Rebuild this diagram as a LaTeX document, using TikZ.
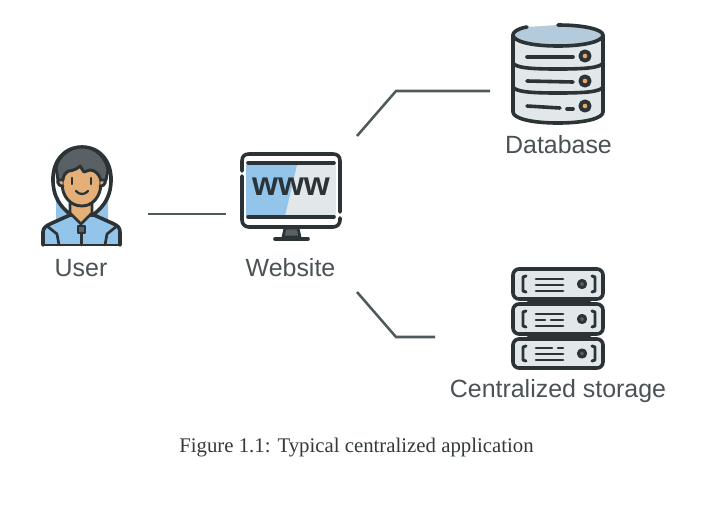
\documentclass[tikz,border=0pt]{standalone}
\usepackage{fontspec}
\setmainfont{Liberation Sans}
\newfontfamily\capfont{Liberation Serif}
\definecolor{ink}{HTML}{2B3336}
\definecolor{labelc}{HTML}{4A5256}
\definecolor{linec}{HTML}{4F5A5C}
\definecolor{skyb}{HTML}{93C5EA}
\definecolor{greyf}{HTML}{E2E8E9}
\definecolor{dbtop}{HTML}{B3CBDA}
\definecolor{skin}{HTML}{E5AF78}
\definecolor{hair}{HTML}{5A6164}
\definecolor{orng}{HTML}{E9A765}
\tikzset{
 icon/.style={draw=ink,line width=2.7pt,line cap=round,line join=round},
 thin icon/.style={draw=ink,line width=2.2pt,line cap=round,line join=round},
 conn/.style={draw=linec,line width=1.9pt,line join=miter},
 anchorbox/.style={inner sep=0pt,outer sep=0pt,minimum width=#1*0.75pt},
 lab/.style={text=labelc,font=\fontsize{18.7pt}{22pt}\selectfont,inner sep=0pt},
}
\newcommand{\dbled}[1]{%
 \filldraw[icon,fill=orng,line width=2.9pt] (585,#1) circle (4.6);}
\newcommand{\rackbox}[2]{%
 \filldraw[icon,fill=greyf,rounded corners=4.5pt] (513,#1) rectangle (603,#2);
 \draw[thin icon] (526,#1+7) -- (523,#1+8) -- (523,#2-8) -- (526,#2-7);
 \draw[thin icon] (592,#1+7) -- (595,#1+8) -- (595,#2-8) -- (592,#2-7);
 \filldraw[thin icon,fill=hair] (582,#1/2+#2/2) circle (3.6);}
\begin{document}
\begin{tikzpicture}[x=0.75pt,y=-0.75pt]
\useasboundingbox[fill=white] (0,0) rectangle (710,511);

% anchor boxes for connectors
\node[anchorbox=134,minimum height=90pt] (user) at (81,214) {};
\node[anchorbox=131,minimum height=117pt] (website) at (291.5,214) {};
\node[anchorbox=134,minimum height=82pt] (database) at (557,91) {};
\node[anchorbox=246,minimum height=75pt] (storage) at (558,337) {};

% connectors
\draw[conn] (user.east) -- (website.west);
\draw[conn] (website.north east) -- (396,91) -- (database.west);
\draw[conn] (website.south east) -- (396,337) -- (storage.west);

% ---- user icon
\path[fill=skyb] (56,190) .. controls (60,205) and (68,214) .. (76,220) -- (88,220) .. controls (96,214) and (104,205) .. (108,190) -- (108,225) -- (56,225) -- cycle;
\filldraw[icon,fill=skyb] (43,245) -- (43,232) .. controls (43,228) and (46,226) .. (50,224) -- (70,215) -- (94,215) -- (114,224) .. controls (118,226) and (120,228) .. (120,232) -- (120,245);
\draw[thin icon] (43,245) -- (120,245);
\draw[icon,line width=2pt] (59,245) -- (57,234) -- (47,226);
\draw[icon,line width=2pt] (105,245) -- (107,234) -- (117,226);
\filldraw[icon,fill=skin,line width=2pt] (70,203) -- (70,213) -- (81,224) -- (92,213) -- (92,203) -- cycle;
\filldraw[icon,fill=hair,line width=2pt] (78,226) rectangle (85,233);
\draw[icon,line width=2pt] (81.5,233) -- (81.5,245);
\draw[icon] (54,190) .. controls (49,165) and (62,147) .. (82,147) .. controls (102,147) and (115,165) .. (110,190) .. controls (108,200) and (102,208) .. (94,214);
\draw[icon] (54,190) .. controls (56,200) and (62,208) .. (70,214);
\filldraw[thin icon,fill=skin] (62,183) .. controls (62,172) and (70,163) .. (82,163) .. controls (94,163) and (101,172) .. (101,183) .. controls (101,196) and (93,206) .. (82,206) .. controls (70,206) and (62,196) .. (62,183) -- cycle;
\filldraw[thin icon,fill=skin] (62,178) .. controls (56,178) and (56,186) .. (63,186);
\filldraw[thin icon,fill=skin] (101,178) .. controls (107,178) and (107,186) .. (100,186);
\filldraw[thin icon,fill=hair] (58,180) -- (56,168) .. controls (58,156) and (70,147) .. (82,147) .. controls (96,147) and (106,158) .. (108,170) -- (106,180) -- (101,180) .. controls (99,174) and (95,170) .. (90,170) -- (84,172) -- (80,166) .. controls (74,172) and (68,170) .. (67,172) .. controls (64,174) and (63,178) .. (63,180) -- cycle;
\draw[thin icon,line width=1.6pt] (72,178) -- (72,184);
\draw[thin icon,line width=1.6pt] (91,178) -- (91,184);
\draw[thin icon,line width=1.7pt] (76,191) .. controls (79,195) and (85,195) .. (88,191);

% ---- website icon
\filldraw[icon,fill=hair,line width=2pt] (285,228) -- (283,237) -- (300,237) -- (298,228) -- cycle;
\draw[icon] (275,239) -- (308,239);
\fill[white] (243,155) rectangle (338,226);
\fill[greyf] (246,165) rectangle (336,216);
\fill[skyb] (246,165) -- (297,165) -- (285,216) -- (246,216) -- cycle;
\draw[icon] (242,171) -- (242,161) .. controls (242,156) and (245,154) .. (249,154) -- (333,154) .. controls (337,154) and (340,156) .. (340,161) -- (340,212);
\draw[icon] (340,218) -- (340,220) .. controls (340,224) and (337,227) .. (333,227) -- (249,227) .. controls (245,227) and (242,224) .. (242,220) -- (242,176);
\draw[icon] (248,163) -- (334,163);
\draw[icon] (248,217) -- (334,217);
\node[inner sep=0pt,text=ink,font=\fontsize{25pt}{26pt}\bfseries\selectfont] (www) at (291,187) {www};

% ---- database icon
\filldraw[icon,fill=greyf] (513,35) -- (513,112) .. controls (513,118) and (530,123) .. (558,123) .. controls (586,123) and (603,118) .. (603,112) -- (603,35);
\draw[icon] (513,63) .. controls (516,68) and (532,69) .. (558,69) .. controls (584,69) and (600,68) .. (603,63);
\draw[icon] (513,87) .. controls (516,92) and (532,93) .. (558,93) .. controls (584,93) and (600,92) .. (603,87);
\filldraw[icon,fill=dbtop] (558,25) .. controls (586,25) and (603,30) .. (603,35) .. controls (603,41) and (586,46) .. (558,46) .. controls (530,46) and (513,41) .. (513,35) .. controls (513,30) and (525,27) .. (527,27);
\draw[icon] (527,57) -- (573,57);
\draw[icon] (527,81) -- (573,82);
\draw[icon] (527,106) -- (560,108);
\draw[icon] (567,109) -- (573,109);
\dbled{56}
\dbled{81}
\dbled{106}

% ---- storage icon
\fill[skyb] (528,299) rectangle (590,304);
\fill[skyb] (528,334) rectangle (590,339);
\draw[thin icon] (528,301) -- (590,301);
\draw[thin icon] (528,336) -- (590,336);
\rackbox{269}{299}
\rackbox{304}{334}
\rackbox{339}{368}
\draw[thin icon] (536,279) -- (563,279) (536,285) -- (563,285) (536,291) -- (563,291);
\draw[thin icon] (536,314) -- (563,314) (536,320) -- (545,320) (551,320) -- (563,320) (536,326) -- (563,326);
\draw[thin icon] (536,348) -- (552,348) (558,348) -- (563,348) (536,354) -- (563,354) (536,360) -- (563,360);

% ---- labels
\node[lab] (userlab) at (81,268) {User};
\node[lab] (weblab) at (290.5,268) {Website};
\node[lab] (dblab) at (558.5,144.5) {Database};
\node[lab] (stlab) at (558,391) {Centralized storage};
\node[inner sep=0pt,text=labelc!70!black,font=\capfont\fontsize{15.6pt}{19pt}\selectfont] (caption) at (356.5,448) {Figure 1.1: Typical centralized application};
\end{tikzpicture}
\end{document}
